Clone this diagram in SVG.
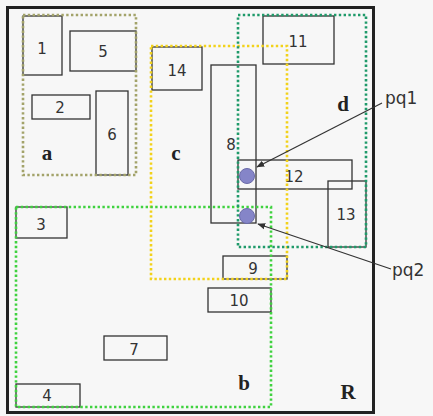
<svg xmlns="http://www.w3.org/2000/svg" width="433" height="416" viewBox="0 0 433 416">
<defs>
<style>
.box{fill:none;stroke:#333;stroke-width:1.3}
.num{font-family:"DejaVu Sans",Verdana,sans-serif;font-size:15px;fill:#333;text-anchor:middle}
.lbl{font-family:"Liberation Serif","Times New Roman",serif;font-size:21px;font-weight:bold;fill:#222;text-anchor:middle}
.pq{font-family:"DejaVu Sans",Verdana,sans-serif;font-size:17px;fill:#333}
.reg{fill:none;stroke-width:2.6;stroke-dasharray:2.4 2.4}
.pt{fill:#8585c8;stroke:#6a6aa8;stroke-width:1}
.arr{stroke:#333;stroke-width:1.2;fill:none;marker-end:url(#ah)}
</style>
<marker id="ah" viewBox="0 0 10 10" refX="9" refY="5" markerWidth="8" markerHeight="8" orient="auto" markerUnits="userSpaceOnUse">
<path d="M0,1 L10,5 L0,9 z" fill="#333"/>
</marker>
</defs>
<rect x="0" y="0" width="433" height="416" fill="#f7f7f7"/>
<rect id="R" x="7.5" y="7.5" width="366" height="405" fill="#f7f7f7" stroke="#222" stroke-width="3"/>
<text class="lbl" x="348" y="399">R</text>

<g id="n1"><rect class="box" x="23" y="16" width="39" height="59"/><text class="num" x="42" y="54">1</text></g>
<g id="n5"><rect class="box" x="70" y="31" width="66" height="40"/><text class="num" x="103" y="57">5</text></g>
<g id="n2"><rect class="box" x="32" y="95" width="58" height="24"/><text class="num" x="60" y="113">2</text></g>
<g id="n6"><rect class="box" x="96" y="91" width="32" height="84"/><text class="num" x="112" y="140">6</text></g>
<g id="n14"><rect class="box" x="152" y="47" width="50" height="43"/><text class="num" x="177" y="76">14</text></g>
<g id="n8"><rect class="box" x="211" y="65" width="45" height="158"/><text class="num" x="231" y="150">8</text></g>
<g id="n11"><rect class="box" x="263" y="16" width="71" height="48"/><text class="num" x="298" y="47">11</text></g>
<g id="n12"><rect class="box" x="238" y="160" width="114" height="29"/><text class="num" x="294" y="182">12</text></g>
<g id="n13"><rect class="box" x="328" y="181" width="38" height="66"/><text class="num" x="346" y="220">13</text></g>
<g id="n3"><rect class="box" x="16" y="207" width="51" height="31"/><text class="num" x="41" y="230">3</text></g>
<g id="n4"><rect class="box" x="16" y="384" width="64" height="23"/><text class="num" x="47" y="401">4</text></g>
<g id="n7"><rect class="box" x="104" y="336" width="63" height="24"/><text class="num" x="134" y="355">7</text></g>
<g id="n9"><rect class="box" x="223" y="256" width="64" height="23"/><text class="num" x="253" y="274">9</text></g>
<g id="n10"><rect class="box" x="208" y="288" width="63" height="24"/><text class="num" x="239" y="306">10</text></g>

<g id="a"><rect class="reg" x="23" y="15" width="113" height="160" stroke="#a3a36a"/><text class="lbl" x="47" y="160">a</text></g>
<g id="c"><rect class="reg" x="151" y="46" width="136" height="233" stroke="#f2d21a"/><text class="lbl" x="176" y="160">c</text></g>
<g id="b"><rect class="reg" x="16" y="207" width="255" height="200" stroke="#3fd23f"/><text class="lbl" x="244" y="390">b</text></g>
<g id="d"><rect class="reg" x="238" y="15" width="128" height="232" stroke="#1f9a6a"/><text class="lbl" x="343" y="111">d</text></g>

<g id="pq1"><circle class="pt" cx="247" cy="176" r="7.5"/><text class="pq" x="385" y="104">pq1</text></g>
<g id="pq2"><circle class="pt" cx="247" cy="216" r="7.5"/><text class="pq" x="392" y="276">pq2</text></g>

<g id="connectors">
<line class="arr" x1="382" y1="103" x2="257" y2="167"/>
<line class="arr" x1="391" y1="269" x2="258" y2="224"/>
</g>
</svg>
